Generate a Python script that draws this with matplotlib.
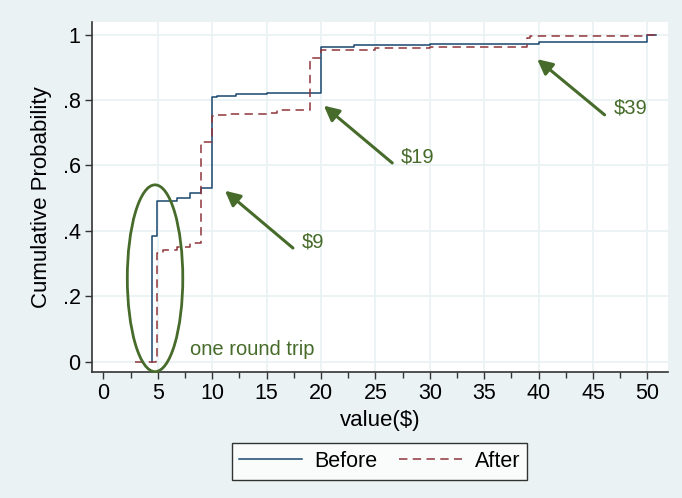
import numpy as np
import matplotlib.pyplot as plt
from matplotlib.patches import Ellipse

# step points of the two empirical CDFs (value in $, cumulative probability)
before_x = [4.45, 4.95, 6.75, 8.0, 9.0, 10.0, 10.4, 12.2, 15.0, 20.0, 23.0, 30.0, 40.0, 50.0, 50.8]
before_y = [0.385, 0.49, 0.50, 0.515, 0.53, 0.808, 0.813, 0.817, 0.822, 0.962, 0.967, 0.972, 0.976, 1.0, 1.0]
after_x = [2.9, 4.8, 4.95, 5.5, 6.75, 8.0, 9.0, 10.0, 10.4, 11.6, 15.0, 16.0, 18.95, 20.0, 25.0, 30.0, 38.9, 39.2, 50.0, 50.8]
after_y = [0.0, 0.01, 0.332, 0.342, 0.352, 0.362, 0.671, 0.752, 0.755, 0.758, 0.76, 0.768, 0.929, 0.954, 0.959, 0.962, 0.99, 0.995, 1.0, 1.0]

# annotations: label, arrow tip, arrow tail
notes = ["$9", "$19", "$39"]
tips = [(10.98, 0.528), (20.07, 0.788), (39.68, 0.930)]
tails = [(17.62, 0.342), (26.75, 0.602), (46.27, 0.749)]

xticks = np.arange(0, 51, 5)
yticks = [0, 0.2, 0.4, 0.6, 0.8, 1.0]
ylabels = ["0", ".2", ".4", ".6", ".8", "1"]

navy = "#1a476f"
maroon = "#90353b"
green = "#466b2a"
bg = "#eaf2f3"

plt.rcParams['font.family'] = ['Liberation Sans', 'DejaVu Sans']

fig = plt.figure(figsize=(6.82, 4.98), dpi=100, facecolor=bg)
ax = fig.add_axes([0.1345, 0.253, 0.845, 0.702])
ax.set_facecolor("white")

# start each curve from zero
bx = [before_x[0]] + before_x
by = [0.0] + before_y
ax.step(bx, by, where="post", color=navy, lw=1.1, label="Before", zorder=3)
ax.step(after_x, after_y, where="post", color=maroon, lw=1.1, ls=(0, (5.5, 3.5)), label="After", zorder=3)

ax.set_xlim(-1.07, 51.9)
ax.set_ylim(-0.0315, 1.037)
ax.set_xticks(xticks)
ax.set_xticks(np.arange(2.5, 51, 5), minor=True)
ax.set_yticks(yticks)
ax.set_yticklabels(ylabels)
ax.tick_params(axis="both", which="major", length=5, width=1, labelsize=15.5, color="#333333", pad=3)
ax.tick_params(axis="x", which="minor", length=4, width=1, color="#333333")

for s in ["top", "right"]:
    ax.spines[s].set_visible(False)
for s in ["left", "bottom"]:
    ax.spines[s].set_color("#333333")
    ax.spines[s].set_linewidth(1.2)

for v in xticks[1:]:
    ax.axvline(v, color=bg, lw=1.3, zorder=1)
for v in yticks:
    ax.axhline(v, color=bg, lw=1.3, zorder=1)

ax.set_xlabel("value($)", fontsize=16, labelpad=4)
ax.set_ylabel("Cumulative Probability", fontsize=16, labelpad=8)

ax.add_patch(Ellipse((4.75, 0.255), 5.1, 0.571, fill=False, ec=green, lw=2.0, zorder=4, clip_on=False))
ax.text(7.97, 0.036, "one round trip", color=green, fontsize=14.5, va="center", ha="left")

for lab, tip, tail in zip(notes, tips, tails):
    ax.annotate("", xy=tip, xytext=tail,
                arrowprops=dict(arrowstyle="-|>,head_length=0.9,head_width=0.45", color=green, lw=2.2))
    ax.text(tail[0] + 0.6, tail[1] + 0.025, lab, color=green, fontsize=14.5, va="center", ha="left")

leg = ax.legend(loc="center", bbox_to_anchor=(0.5565, 0.0733), bbox_transform=fig.transFigure,
                ncol=2, frameon=True, fancybox=False, fontsize=15.5, handlelength=2.9,
                columnspacing=1.0, borderpad=0.35, handletextpad=0.6, borderaxespad=0)
leg.get_frame().set_edgecolor("black")
leg.get_frame().set_linewidth(1.0)

fig.savefig("out.png", dpi=100, facecolor=bg)
